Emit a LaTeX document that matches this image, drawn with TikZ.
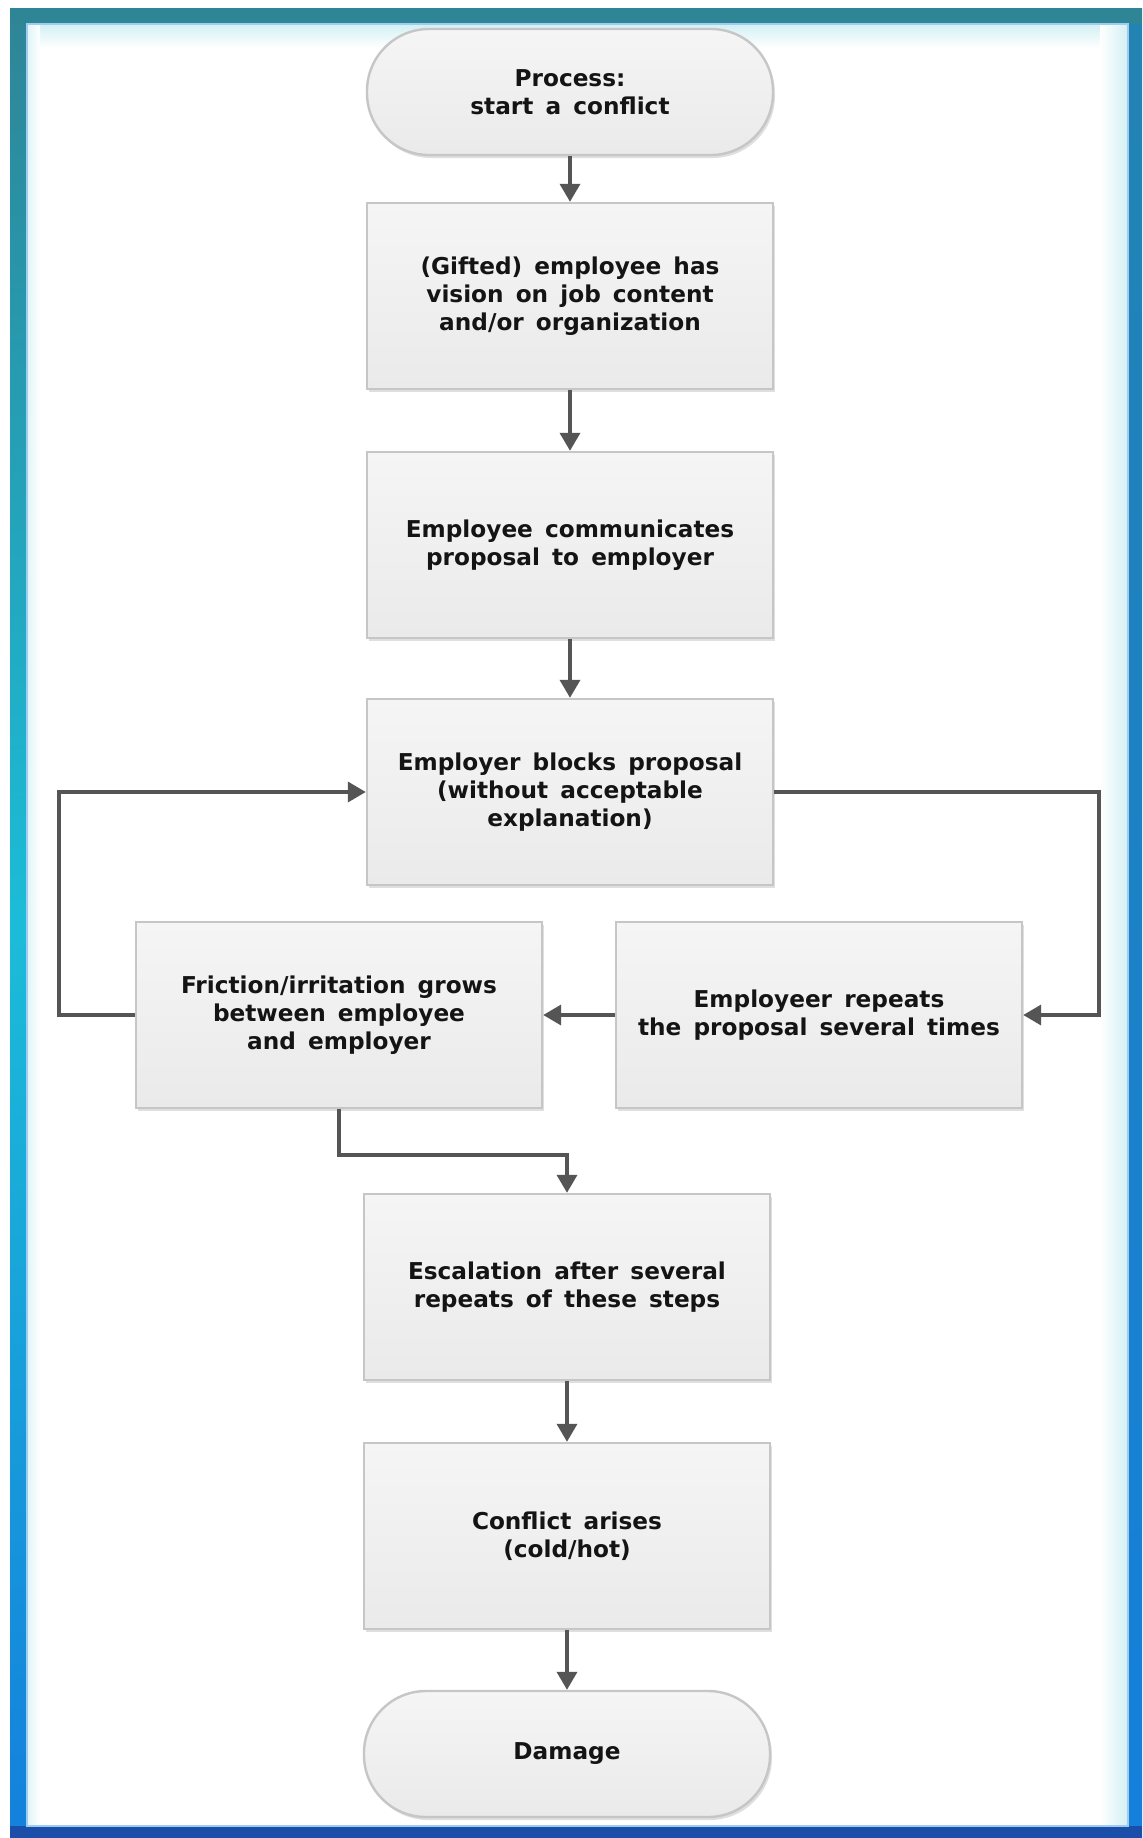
\documentclass[tikz,border=0pt]{standalone}
\usepackage{fontspec}
\setmainfont{DejaVu Sans}[WordSpace=1.5]
\usetikzlibrary{arrows.meta,shadows}
\definecolor{teal1}{HTML}{2E8596}
\definecolor{cyan1}{HTML}{1CBCD8}
\definecolor{blue1}{HTML}{1480DC}
\definecolor{blue2}{HTML}{1A4EA8}
\definecolor{boxline}{HTML}{C6C6C6}
\definecolor{boxtop}{HTML}{F5F5F5}
\definecolor{boxbot}{HTML}{EAEAEA}
\definecolor{arrowc}{HTML}{555555}
\definecolor{glow}{HTML}{D2F0F4}
\tikzset{
  stepbox/.style={rectangle, draw=boxline, line width=1.2pt,
    top color=boxtop, bottom color=boxbot,
    minimum width=203pt, minimum height=93pt, align=center,
    text=black!92, font=\bfseries\fontsize{11.6}{14}\selectfont,
    drop shadow={shadow xshift=1pt, shadow yshift=-1.5pt, opacity=0.25}},
  termbox/.style={stepbox, rounded corners=31pt, minimum height=63pt},
  arr/.style={draw=arrowc, line width=1.8pt, -{Triangle[length=9pt,width=10pt]}},
}
\begin{document}
\begin{tikzpicture}[x=0.5pt,y=-0.5pt]
\useasboundingbox (0,0) rectangle (1142,1838);
\fill[white] (0,0) rectangle (1142,1838);
% frame glow
\shade[top color=glow, bottom color=white] (27,24) rectangle (1128,48);
\shade[left color=white, right color=glow] (1100,24) rectangle (1128,1826);
\shade[left color=glow!70!white, right color=white] (27,24) rectangle (40,1826);
% frame bands
\shade[top color=teal1, bottom color=blue1, middle color=cyan1] (10,8) rectangle (27,1838);
\shade[top color=teal1!60!blue1, bottom color=blue1] (1128,8) rectangle (1142,1838);
\fill[teal1] (10,8) rectangle (1142,24);
\fill[blue2] (10,1826) rectangle (1142,1838);
\draw[blue1!40!white, line width=1pt] (27,24) rectangle (1128,1826);

% nodes
\node[termbox] (start) at (570,92) {Process:\\start a conflict};
\node[stepbox] (b1) at (570,296) {(Gifted) employee has\\vision on job content\\and/or organization};
\node[stepbox] (b2) at (570,545) {Employee communicates\\proposal to employer};
\node[stepbox] (b3) at (570,792) {Employer blocks proposal\\(without acceptable\\explanation)};
\node[stepbox] (fr) at (339,1015) {Friction/irritation grows\\between employee\\and employer};
\node[stepbox] (rep) at (819,1015) {Employeer repeats\\the proposal several times};
\node[stepbox] (esc) at (567,1287) {Escalation after several\\repeats of these steps};
\node[stepbox] (con) at (567,1536) {Conflict arises\\(cold/hot)};
\node[termbox] (dam) at (567,1754) {Damage};

\coordinate (cr) at (1099,792);
\coordinate (cl) at (59,792);
\coordinate (cm) at (450,1155);

% connectors
\draw[arr] (start.south) -- (b1.north);
\draw[arr] (b1.south) -- (b2.north);
\draw[arr] (b2.south) -- (b3.north);
\draw[arr] (b3.east) -- (cr) |- (rep.east);
\draw[arr] (rep.west) -- (fr.east);
\draw[arr] (fr.west) -| (cl) -- (b3.west);
\draw[arr] (fr.south) |- (cm) -| (esc.north);
\draw[arr] (esc.south) -- (con.north);
\draw[arr] (con.south) -- (dam.north);
\end{tikzpicture}
\end{document}
